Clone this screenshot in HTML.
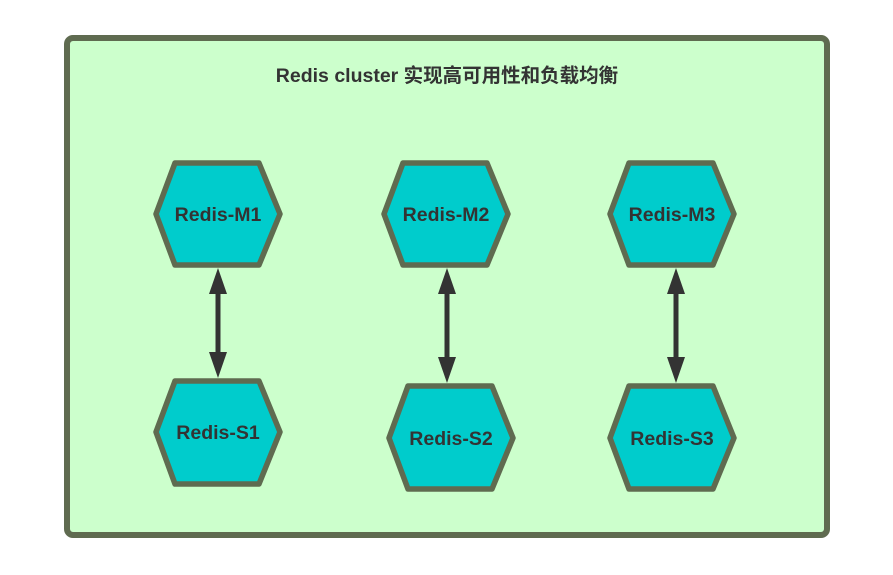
<!DOCTYPE html>
<html><head><style>body{margin:0;background:#fff}svg{display:block}</style></head><body>
<svg width="893" height="575" viewBox="0 0 893 575" xmlns="http://www.w3.org/2000/svg" font-family="Liberation Sans, Noto Sans CJK SC, sans-serif" font-weight="bold">
<rect x="67" y="38" width="760" height="497" rx="6" fill="#ccffcc" stroke="#5f6b50" stroke-width="6"/>
<text x="447" y="82" text-anchor="middle" font-size="19.5" fill="#333">Redis cluster 实现高可用性和负载均衡</text>
<g fill="#00cccc" stroke="#5f6b50" stroke-width="5.5" stroke-linejoin="round">
<polygon points="156,214 175,163 259,163 280,214 259,265 175,265"/>
<polygon points="156,432 175,381 259,381 280,432 259,484 175,484"/>
<polygon points="384,214 403,163 487,163 508,214 487,265 403,265"/>
<polygon points="389,438 408,386 492,386 513,438 492,489 408,489"/>
<polygon points="610,214 629,163 713,163 734,214 713,265 629,265"/>
<polygon points="610,438 629,386 713,386 734,438 713,489 629,489"/>
</g>
<g font-size="19.5" fill="#333" text-anchor="middle">
<text x="218" y="221">Redis-M1</text>
<text x="218" y="439">Redis-S1</text>
<text x="446" y="221">Redis-M2</text>
<text x="451" y="445">Redis-S2</text>
<text x="672" y="221">Redis-M3</text>
<text x="672" y="445">Redis-S3</text>
</g>
<g fill="#333" stroke="#333" stroke-width="5">
<line x1="218" y1="290" x2="218" y2="354"/>
<polygon points="218,268 209,294 227,294" stroke="none"/>
<polygon points="218,378 209,352 227,352" stroke="none"/>
<line x1="447" y1="290" x2="447" y2="359"/>
<polygon points="447,268 438,294 456,294" stroke="none"/>
<polygon points="447,383 438,357 456,357" stroke="none"/>
<line x1="676" y1="290" x2="676" y2="359"/>
<polygon points="676,268 667,294 685,294" stroke="none"/>
<polygon points="676,383 667,357 685,357" stroke="none"/>
</g>
</svg>
</body></html>
